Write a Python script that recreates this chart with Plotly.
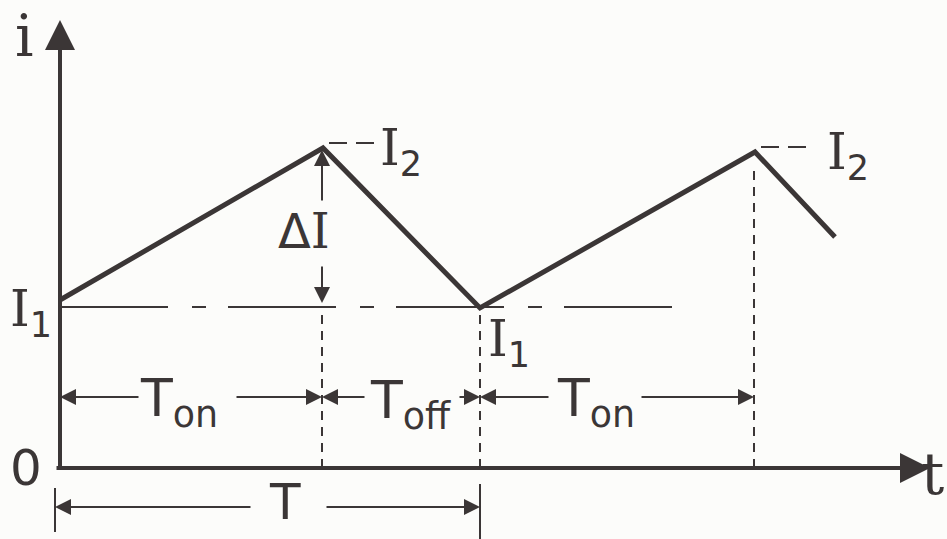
import plotly.graph_objects as go

# ---- data (time units along t, current units along i) ----
t_wave = [0, 263, 420, 695, 775]
i_wave = [168, 320, 160, 316, 231]
I1_level = 161
I2_levels = [325, 321]
t_marks = [262, 420, 694]          # end of Ton, T, end of second Ton
labels_time = ["T<sub>on</sub>", "T<sub>off</sub>", "T<sub>on</sub>"]

INK = "#3b3636"
W, H = 947, 539
X0, Y0 = 60, 468  # pixel position of origin


def px(x):
    return x - X0


def py(y):
    return Y0 - y


fig = go.Figure()

# waveform
fig.add_trace(go.Scatter(x=t_wave, y=i_wave, mode="lines",
                         line=dict(color=INK, width=5), hoverinfo="skip",
                         showlegend=False))

shapes = []
# I1 dash-dot level
shapes.append(dict(type="line", x0=t_wave[0], x1=px(680), y0=I1_level, y1=I1_level,
                   line=dict(color=INK, width=2, dash="108px,24px,14px,22px")))
# I2 short dashes after peaks
for tp, lv in zip([t_wave[1], t_wave[3]], I2_levels):
    shapes.append(dict(type="line", x0=tp + 6, x1=tp + 55, y0=lv, y1=lv,
                       line=dict(color=INK, width=2, dash="18px,9px")))
# vertical dashed lines
shapes.append(dict(type="line", x0=t_marks[0], x1=t_marks[0], y0=0, y1=I1_level,
                   line=dict(color=INK, width=2, dash="9px,7px")))
shapes.append(dict(type="line", x0=t_marks[1], x1=t_marks[1], y0=0, y1=I1_level - 2,
                   line=dict(color=INK, width=2, dash="9px,7px")))
shapes.append(dict(type="line", x0=t_marks[2], x1=t_marks[2], y0=0, y1=i_wave[3] - 14,
                   line=dict(color=INK, width=2, dash="9px,7px")))
# solid ticks below axis for T
shapes.append(dict(type="line", x0=t_marks[1], x1=t_marks[1], y0=py(484), y1=py(539),
                   line=dict(color=INK, width=2)))
shapes.append(dict(type="line", x0=px(55), x1=px(55), y0=py(488), y1=py(532),
                   line=dict(color=INK, width=2)))

annotations = []


def arrow(x_tip, y_tip, x_tail, y_tail, width=2, size=1.6, head=2):
    annotations.append(dict(x=x_tip, y=y_tip, ax=x_tail, ay=y_tail,
                            xref="x", yref="y", axref="x", ayref="y",
                            text="", showarrow=True, arrowhead=head,
                            arrowsize=size, arrowwidth=width,
                            arrowcolor=INK, standoff=0, startstandoff=0))


# axes with arrowheads
arrow(0, py(20), 0, py(470), width=4, size=1.5)
arrow(px(930), 0, px(55), 0, width=4, size=1.5)

# Ton / Toff arrows
ya = py(397)
arrow(0, ya, px(140), ya)
arrow(t_marks[0], ya, px(235), ya)
arrow(t_marks[0], ya, px(366), ya)
arrow(t_marks[1], ya, px(458), ya)
arrow(t_marks[1], ya, px(550), ya)
arrow(t_marks[2], ya, px(640), ya)

# T arrows
yt = py(507)
arrow(px(55), yt, px(252), yt)
arrow(t_marks[1], yt, px(325), yt)

# Delta I arrows
xd = t_wave[1] - 1
arrow(xd, i_wave[1] - 2, xd, py(202))
arrow(xd, I1_level + 4, xd, py(265))


def label(x, y, text, size, family="DejaVu Sans", xanchor="left", yanchor="middle"):
    annotations.append(dict(x=x, y=y, xref="x", yref="y", text=text,
                            showarrow=False, xanchor=xanchor, yanchor=yanchor,
                            font=dict(size=size, color=INK, family=family)))


SERIF = "DejaVu Serif"
sub_sans = '<sub><span style="font-family:DejaVu Sans">{}</span></sub>'

label(px(13), py(36), "i", 58, family=SERIF)
label(px(8), py(468), "0", 50)
label(px(946), py(474), "t", 58, family=SERIF, xanchor="right")
label(px(8), py(312), "I" + sub_sans.format("1"), 50, family=SERIF)
label(px(486), py(342), "I" + sub_sans.format("1"), 50, family=SERIF)
label(t_wave[1] + 55, I2_levels[0] - 8, "I" + sub_sans.format("2"), 50, family=SERIF)
label(t_wave[3] + 70, I2_levels[1] - 8, "I" + sub_sans.format("2"), 50, family=SERIF)
label(px(276), py(231), 'Δ<span style="font-family:DejaVu Serif">I</span>', 48)
label(px(138), py(402), labels_time[0], 52)
label(px(368), py(404), labels_time[1], 52)
label(px(555), py(402), labels_time[2], 52)
label(px(285), py(502), "T", 50, xanchor="center")

fig.update_layout(
    width=W, height=H,
    margin=dict(l=0, r=0, t=0, b=0),
    paper_bgcolor="#fcfcfa", plot_bgcolor="#fcfcfa",
    xaxis=dict(range=[px(0), px(W)], visible=False, fixedrange=True),
    yaxis=dict(range=[py(H), py(0)], visible=False, fixedrange=True),
    shapes=shapes, annotations=annotations, showlegend=False,
)

fig.write_html("out.html", config={"displayModeBar": False},
               post_script="document.body.style.margin='0';document.body.style.overflow='hidden';")
